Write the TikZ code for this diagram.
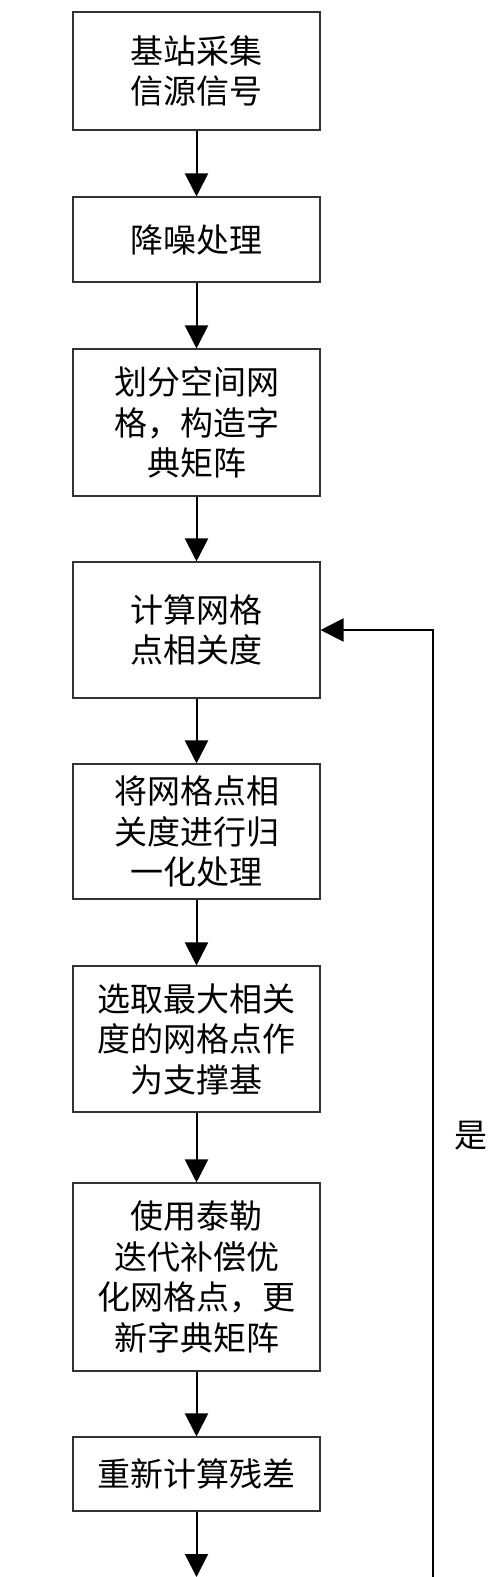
\documentclass[tikz,border=0pt]{standalone}
\usepackage{fontspec}
\newfontfamily\cjk{Noto Sans CJK SC}
\usetikzlibrary{arrows.meta}
\begin{document}
\begin{tikzpicture}[x=1pt,y=1pt,
  box/.style={draw=black!80, line width=1.1pt, minimum width=247pt, align=center,
    font=\cjk\fontsize{33}{40.5}\selectfont, inner sep=0pt},
  conn/.style={line width=2pt, -{Triangle[width=23pt,length=23pt]}}]
\useasboundingbox (0,0) rectangle (500,-1577);
\node[box, minimum height=118pt] (b1) at (196.5,-71) {基站采集\\信源信号};
\node[box, minimum height=85pt] (b2) at (196.5,-239.5) {降噪处理};
\node[box, minimum height=147pt] (b3) at (196.5,-422.5) {划分空间网\\格，构造字\\典矩阵};
\node[box, minimum height=136pt] (b4) at (196.5,-630) {计算网格\\点相关度};
\node[box, minimum height=135pt] (b5) at (196.5,-831.5) {将网格点相\\关度进行归\\一化处理};
\node[box, minimum height=146pt] (b6) at (196.5,-1039) {选取最大相关\\度的网格点作\\为支撑基};
\node[box, minimum height=188pt] (b7) at (196.5,-1277) {使用泰勒\\迭代补偿优\\化网格点，更\\新字典矩阵};
\node[box, minimum height=74pt] (b8) at (196.5,-1474) {重新计算残差};
\coordinate (e) at (196.5,-1577);
\coordinate (r1) at (433,-1577);
\coordinate (r2) at (433,-630);
\node[font=\cjk\fontsize{33}{40}\selectfont, inner sep=0pt] (yes) at (471,-1136) {是};
\draw[conn] (b1) -- (b2);
\draw[conn] (b2) -- (b3);
\draw[conn] (b3) -- (b4);
\draw[conn] (b4) -- (b5);
\draw[conn] (b5) -- (b6);
\draw[conn] (b6) -- (b7);
\draw[conn] (b7) -- (b8);
\draw[conn] (b8) -- (e);
\draw[conn] (r1) -- (r2) -- (b4.east);
\end{tikzpicture}
\end{document}
